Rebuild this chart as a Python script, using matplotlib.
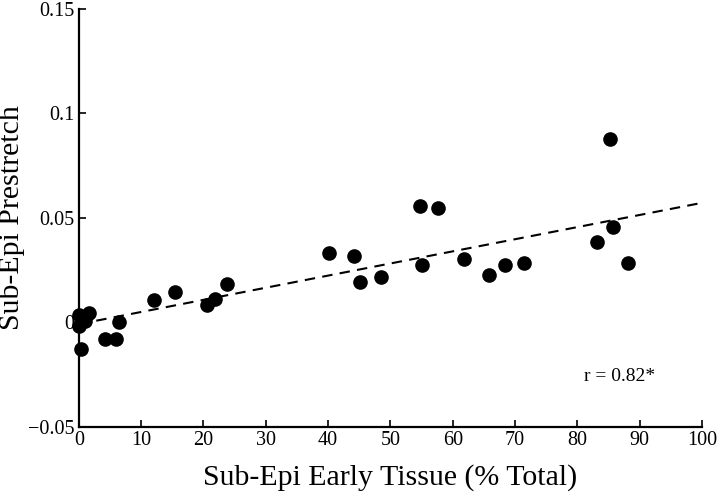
import numpy as np
import matplotlib.pyplot as plt

plt.rcParams["font.family"] = ["Liberation Serif", "DejaVu Serif"]

# data
early_tissue = [0.0, 1.7, 1.0, 0.0, 0.4, 4.2, 6.0, 6.4, 12.1, 15.4, 20.5, 21.8, 23.7,
                40.1, 44.1, 45.2, 48.5, 54.7, 57.6, 55.0, 61.8, 65.9, 68.4, 71.4,
                83.2, 85.3, 85.8, 88.1]
prestretch = [0.0036, 0.0046, 0.0005, -0.0018, -0.0126, -0.0078, -0.0078, 0.0003,
              0.0105, 0.0145, 0.0083, 0.0113, 0.0185,
              0.0333, 0.0316, 0.0193, 0.0215, 0.0556, 0.0545, 0.0276, 0.0304, 0.0225,
              0.0276, 0.0285, 0.0384, 0.0878, 0.0456, 0.0285]
fit_intercept = -0.0008
fit_slope = 0.00058
x_ticks = [0, 10, 20, 30, 40, 50, 60, 70, 80, 90, 100]
y_ticks = [-0.05, 0, 0.05, 0.1, 0.15]
y_ticklabels = ["\u22120.05", "0", "0.05", "0.1", "0.15"]

fig = plt.figure(figsize=(7.17, 4.93), dpi=100)
ax = fig.add_axes([0.110, 0.134, 0.869, 0.848])

fit_x = np.array([0, 100])
ax.plot(fit_x, fit_intercept + fit_slope * fit_x, color="black", lw=1.5,
        linestyle=(0, (5, 3.5)), zorder=2)
ax.plot(early_tissue, prestretch, "o", color="black", ms=9.5, zorder=3, clip_on=False)

ax.set_xlim(0, 100)
ax.set_ylim(-0.05, 0.15)
ax.set_xticks(x_ticks)
ax.set_yticks(y_ticks)
ax.set_yticklabels(y_ticklabels)

for side in ["top", "right"]:
    ax.spines[side].set_visible(False)
for side in ["left", "bottom"]:
    ax.spines[side].set_linewidth(1.6)
ax.tick_params(direction="in", length=5, width=1.2, labelsize=14.5, pad=3)

ax.set_xlabel("Sub-Epi Early Tissue (% Total)", fontsize=21.5, labelpad=10)
ax.set_ylabel("Sub-Epi Prestretch", fontsize=21.5, labelpad=2)
ax.text(86.7, -0.026, "r = 0.82*", fontsize=14, ha="center", va="center")

fig.savefig("out.png", dpi=100)
